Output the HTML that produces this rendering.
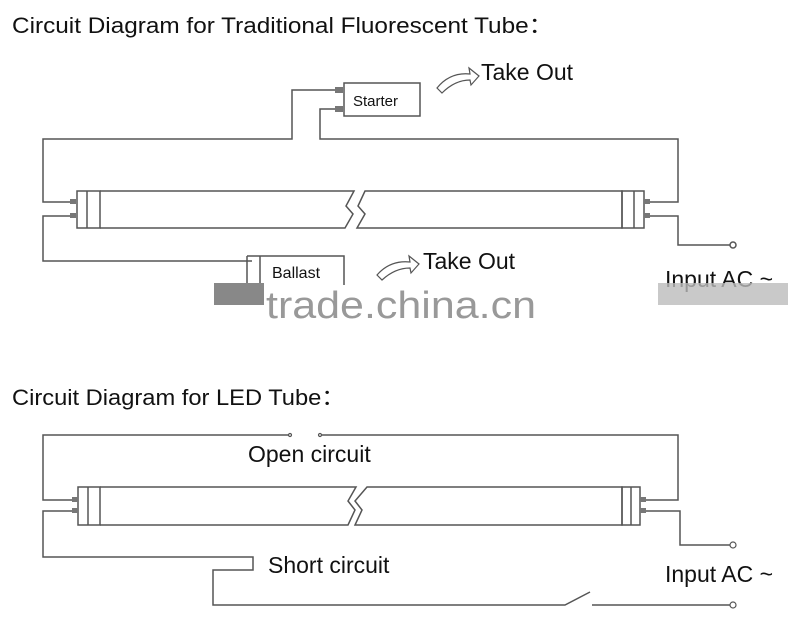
<!DOCTYPE html>
<html><head><meta charset="utf-8"><style>
html,body{margin:0;padding:0;background:#fff;}
svg{display:block;}
text{font-family:"Liberation Sans","Noto Sans CJK SC",sans-serif;fill:#111;}
</style></head><body>
<svg width="800" height="635" viewBox="0 0 800 635" xmlns="http://www.w3.org/2000/svg">
<rect width="800" height="635" fill="#fff"/>
<text x="12" y="33" font-size="22" textLength="541" lengthAdjust="spacingAndGlyphs">Circuit Diagram for Traditional Fluorescent Tube：</text>
<g fill="none" stroke="#555" stroke-width="1.5">
<polyline points="75,202 43,202 43,139 292,139 292,90 340,90"/>
<polyline points="340,109 320,109 320,139 678,139 678,202 645,202"/>
<polyline points="75,216 43,216 43,261 252,261"/>
<polyline points="645,216 678,216 678,245 730,245"/>
<circle cx="733" cy="245" r="3"/>
<rect x="344" y="83" width="76" height="33"/>
<path d="M247,256 H344 V285 M247,256 V285 M260,256 V285"/>
<rect x="77" y="191" width="23" height="37"/>
<line x1="87" y1="191" x2="87" y2="228"/>
<path d="M100,191 H354 L346,206 L353,214 L345,228 H100"/>
<path d="M365,191 H622 V228 H357 L365,214 L358,206 Z"/>
<rect x="622" y="191" width="22" height="37"/>
<line x1="634" y1="191" x2="634" y2="228"/>
<polyline points="75,500 43,500 43,435 290,435"/>
<polyline points="320,435 678,435 678,500 645,500"/>
<polyline points="75,511 43,511 43,557 253,557 253,570 213,570 213,605 565,605 590,592"/>
<polyline points="592,605 735,605"/>
<polyline points="645,511 680,511 680,545 731,545"/>
<rect x="78" y="487" width="22" height="38"/>
<line x1="88" y1="487" x2="88" y2="525"/>
<path d="M100,487 H356 L348,501 L355,510 L348,525 H100"/>
<path d="M367,487 H622 V525 H355 L362,510 L355,501 Z"/>
<rect x="622" y="487" width="18" height="38"/>
<line x1="631" y1="487" x2="631" y2="525"/>
</g>
<g fill="#fff" stroke="#555" stroke-width="1.2">
<circle cx="733" cy="605" r="3"/><circle cx="733" cy="545" r="3"/>
<circle cx="290" cy="435" r="1.5"/><circle cx="320" cy="435" r="1.5"/>
</g>
<g fill="#777">
<rect x="70" y="199" width="6" height="5"/><rect x="70" y="213" width="6" height="5"/>
<rect x="644" y="199" width="6" height="5"/><rect x="644" y="213" width="6" height="5"/>
<rect x="335" y="87" width="8" height="6"/><rect x="335" y="106" width="8" height="6"/>
<rect x="72" y="497" width="6" height="5"/><rect x="72" y="508" width="6" height="5"/>
<rect x="640" y="497" width="6" height="5"/><rect x="640" y="508" width="6" height="5"/>
</g>
<text x="353" y="106" font-size="15">Starter</text>
<text x="272" y="278" font-size="16">Ballast</text>
<g fill="none" stroke="#555" stroke-width="1.2">
<path d="M437,88 Q450,72 470,74 L469,68 L479,76 L471,85 L470,80 Q455,80 442,93 Z"/>
<path d="M377,275 Q390,260 410,262 L409,256 L419,264 L411,273 L410,268 Q395,268 382,280 Z"/>
</g>
<text x="481" y="80" font-size="23">Take Out</text>
<text x="423" y="269" font-size="23">Take Out</text>
<text x="665" y="287" font-size="23">Input AC ~</text>
<rect x="214" y="283" width="50" height="22" fill="#888"/>
<rect x="658" y="283" width="130" height="22" fill="#bbb" opacity="0.8"/>
<text x="266" y="318" font-size="38" style="fill:#999" textLength="270" lengthAdjust="spacingAndGlyphs">trade.china.cn</text>
<text x="12" y="405" font-size="22" textLength="333" lengthAdjust="spacingAndGlyphs">Circuit Diagram for LED Tube：</text>
<text x="248" y="462" font-size="23">Open circuit</text>
<text x="268" y="573" font-size="23">Short circuit</text>
<text x="665" y="582" font-size="23">Input AC ~</text>
</svg>
</body></html>
